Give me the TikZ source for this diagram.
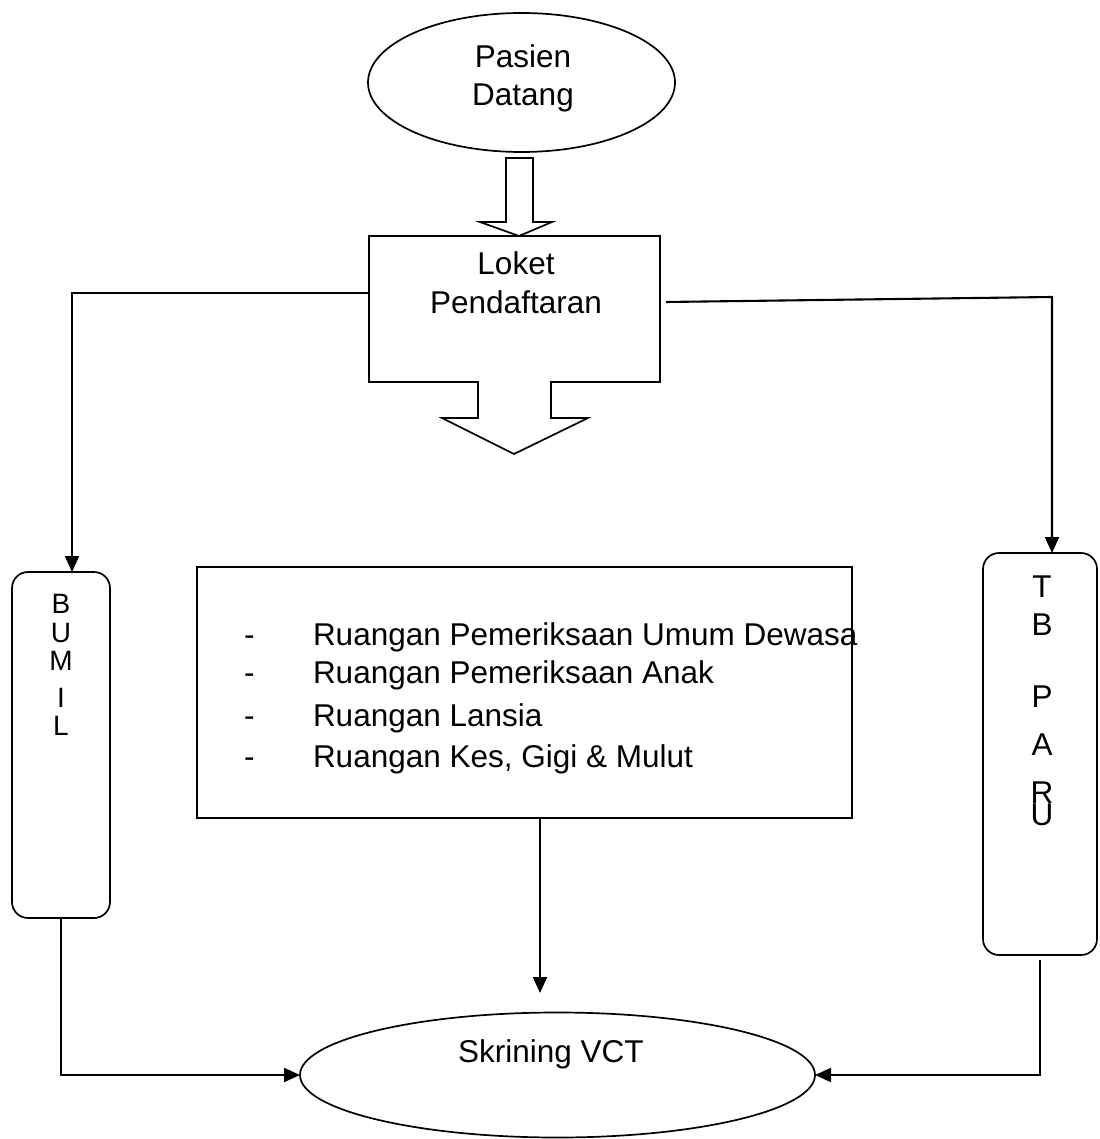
\documentclass[tikz,border=0pt]{standalone}
\usepackage{fontspec}
\setmainfont{Liberation Sans}
\usetikzlibrary{shapes.geometric,arrows.meta,calc}
\begin{document}
\begin{tikzpicture}[x=1pt,y=-1pt,
  every node/.style={inner sep=0pt,outer sep=0pt},
  lbl/.style={font=\fontsize{31.5}{38}\selectfont, anchor=base},
  small/.style={font=\fontsize{28}{34}\selectfont, anchor=base},
  lblw/.style={font=\fontsize{31.5}{38}\selectfont, anchor=base west},
  shp/.style={draw, line width=1.7pt},
  conn/.style={draw, line width=2.1pt, -{Triangle[length=16pt,width=14pt]}},
  plainline/.style={draw, line width=2.1pt}]
\fill[white] (0,0) rectangle (1099,1139);
\useasboundingbox (0,0) rectangle (1099,1139);

% shapes
\node[shp, ellipse, minimum width=307pt, minimum height=139pt] (pasien) at (521.5,82.5) {};
\node[minimum width=291pt, minimum height=146pt] (loket) at (514.5,309) {};
\node[shp, rectangle, minimum width=655pt, minimum height=251pt] (mid) at (524.5,692.5) {};
\node[shp, rectangle, rounded corners=16pt, minimum width=98pt, minimum height=346pt] (bumil) at (61,745) {};
\node[shp, rectangle, rounded corners=16pt, minimum width=114pt, minimum height=402pt] (tb) at (1040,754) {};
\node[shp, ellipse, minimum width=515pt, minimum height=125pt] (skr) at (557.5,1075) {};

% block arrow from Pasien to Loket
\draw[shp, line join=miter] (506,158) -- (533,158) -- (533,222) -- (552,222) -- (519,236)
  -- (480,222) -- (506,222) -- cycle;
% Loket box with downward block arrow
\draw[shp, line join=miter] (loket.north west) -- (loket.north east) -- (loket.south east)
  -- (551,382) -- (551,418) -- (588,418) -- (514,454) -- (442,418) -- (478,418)
  -- (478,382) -- (loket.south west) -- cycle;

% texts
\node[lbl] (t1) at (523,68) {Pasien};
\node[lbl] (t2) at (523,106) {Datang};
\node[lbl] (t3) at (516,275) {Loket};
\node[lbl] (t4) at (516,313) {Pendaftaran};

\node[lblw] (d1) at (244,645) {-};
\node[lblw] (d2) at (244,683) {-};
\node[lblw] (d3) at (244,726) {-};
\node[lblw] (d4) at (244,767) {-};
\node[lblw] (r1) at (313,645) {Ruangan Pemeriksaan Umum Dewasa};
\node[lblw] (r2) at (313,683) {Ruangan Pemeriksaan Anak};
\node[lblw] (r3) at (313,726) {Ruangan Lansia};
\node[lblw] (r4) at (313,767) {Ruangan Kes, Gigi \& Mulut};

\foreach \t/\y [count=\i] in {B/613,U/642,M/670,I/707,L/735}
  \node[small] (bl\i) at (61,\y) {\t};
\foreach \t/\y [count=\i] in {T/597,B/635,P/707,A/755,R/803,U/825}
  \node[lbl] (tl\i) at (1042,\y) {\t};

\node[lblw] (t5) at (458,1062) {Skrining VCT};

% connectors
\coordinate (lc) at (72,293);
\coordinate (rs) at (666,302);
\coordinate (rc) at (1052,297);
\draw[conn] ($(loket.west)+(0,-16)$) -- (lc) -- (lc |- bumil.north);
\draw[conn] (rs) -- (rc) -- (rc |- tb.north);
\draw[conn, shorten >=19pt] (mid.south -| 540,0) -- (540,1012);
\draw[conn] (bumil.south) |- (skr.west);
\draw[conn, shorten <=5pt] (tb.south) |- (skr.east);
\end{tikzpicture}
\end{document}
